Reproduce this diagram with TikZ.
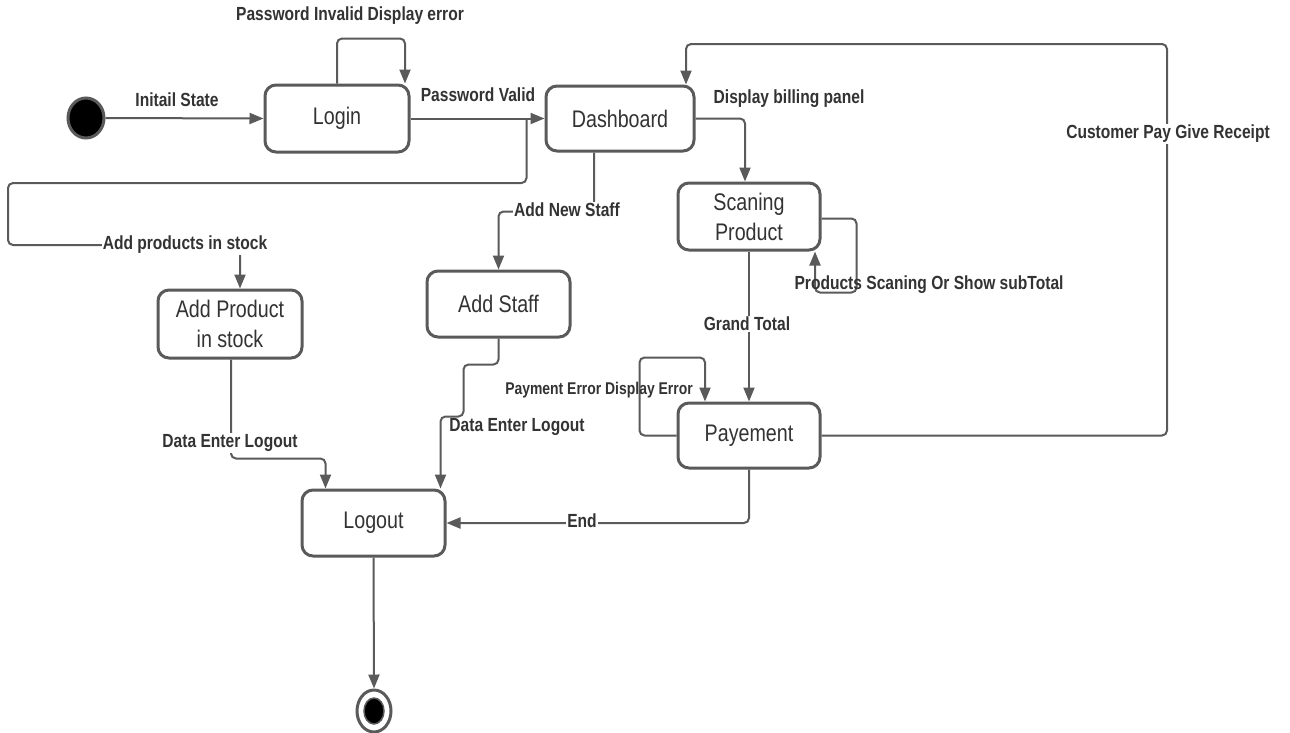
\documentclass[tikz,border=0pt]{standalone}
\usepackage{fontspec}
\setmainfont{Liberation Sans}
\newfontfamily\narrowsans[FakeStretch=0.82]{Liberation Sans}
\usetikzlibrary{arrows.meta,shapes.geometric}
\definecolor{edgegray}{HTML}{5A5A5A}
\definecolor{txtgray}{HTML}{333333}
\tikzset{
  statebox/.style={draw=edgegray, line width=3pt, rounded corners=11pt, fill=white,
    text=txtgray, align=center, font=\narrowsans\fontsize{24}{30}\selectfont, inner sep=0pt},
  conn/.style={draw=edgegray, line width=2pt, rounded corners=5pt,
    -{Triangle[length=14pt,width=11pt]}},
  lbl/.style={text=txtgray, font=\narrowsans\bfseries\fontsize{19}{22}\selectfont, inner sep=1pt},
  lblw/.style={lbl, fill=white},
  lblsmall/.style={lbl, font=\narrowsans\bfseries\fontsize{17}{20}\selectfont},
}
\begin{document}
\begin{tikzpicture}[x=1pt,y=-1pt]
\useasboundingbox[fill=white] (0,0) rectangle (1290,732);
% states
\node[ellipse, draw=edgegray, line width=3pt, fill=black, minimum width=36pt, minimum height=40pt, inner sep=0pt] (init) at (86,118) {};
\node[statebox, minimum width=144pt, minimum height=67pt] (login) at (337,118.5) {Login};
\node[statebox, minimum width=148pt, minimum height=65pt] (dash) at (620,118.5) {Dashboard};
\node[statebox, minimum width=144pt, minimum height=68pt] (addprod) at (230,324) {Add Product\\in stock};
\node[statebox, minimum width=143pt, minimum height=66pt] (addstaff) at (498.5,304) {Add Staff};
\node[statebox, minimum width=142pt, minimum height=67pt] (scan) at (749,216.5) {Scaning\\Product};
\node[statebox, minimum width=142pt, minimum height=65pt] (pay) at (749,435.5) {Payement};
\node[statebox, minimum width=143pt, minimum height=66pt] (logout) at (373.5,523) {Logout};
\node[ellipse, draw=edgegray, line width=3pt, fill=white, minimum width=34pt, minimum height=42pt, inner sep=0pt] (final) at (374,711) {};
\node[ellipse, draw=edgegray, line width=1.5pt, fill=black, minimum width=20pt, minimum height=26pt, inner sep=0pt] (finalin) at (374,711) {};

% connectors
\draw[conn] (init.east) -- (login.west);
\draw[conn] (login.north) -- ++(0,-45) -| ([xshift=68pt]login.north);
\draw[conn] (login.east) -- (dash.west);
\draw[conn] ([xshift=-18pt]dash.west) |- (8,183) -- (8,245) -| ([xshift=10pt]addprod.north);
\draw[conn] ([xshift=-26pt]dash.south) -- ++(0,59) -| (addstaff.north);
\draw[conn] (dash.east) -| ([xshift=-4pt]scan.north);
\draw[conn] ([yshift=-2pt]scan.east) -- ++(35,0) -- ++(0,74) -| ([xshift=66pt]scan.south);
\draw[conn] (scan.south) -- (pay.north);
\draw[conn] (pay.west) -- ++(-37,0) -- ++(0,-78) -| ([xshift=-44pt]pay.north);
\draw[conn] (pay.east) -| (1167,44) -| ([xshift=66pt]dash.north);
\draw[conn] (pay.south) |- (logout.east);
\draw[conn] ([xshift=1pt]addprod.south) -- ++(0,99) -| ([xshift=-48pt]logout.north);
\draw[conn] (addstaff.south) -- ++(0,26) -- ++(-35,0) -- ++(0,52) -| ([xshift=67pt]logout.north);
\draw[conn] (logout.south) -- (final.north);

% labels
\node[lbl] (l1) at (177,100) {Initail State};
\node[lbl] (l2) at (350,16) {Password Invalid Display error};
\node[lbl] (l3) at (478,95) {Password Valid};
\node[lblw] (l4) at (185,245) {Add products in stock};
\node[lblw] (l5) at (567,210) {Add New Staff};
\node[lbl] (l6) at (789,99) {Display billing panel};
\node[lbl] (l7) at (929,285) {Products Scaning Or Show subTotal};
\node[lblw] (l8) at (747,324) {Grand Total};
\node[lblsmall] (l9) at (599,390) {Payment Error Display Error};
\node[lblw] (l10) at (1168,134) {Customer Pay Give Receipt};
\node[lblw] (l11) at (582,521) {End};
\node[lblw] (l12) at (230,443) {Data Enter Logout};
\node[lbl] (l13) at (517,427) {Data Enter Logout};
\end{tikzpicture}
\end{document}
